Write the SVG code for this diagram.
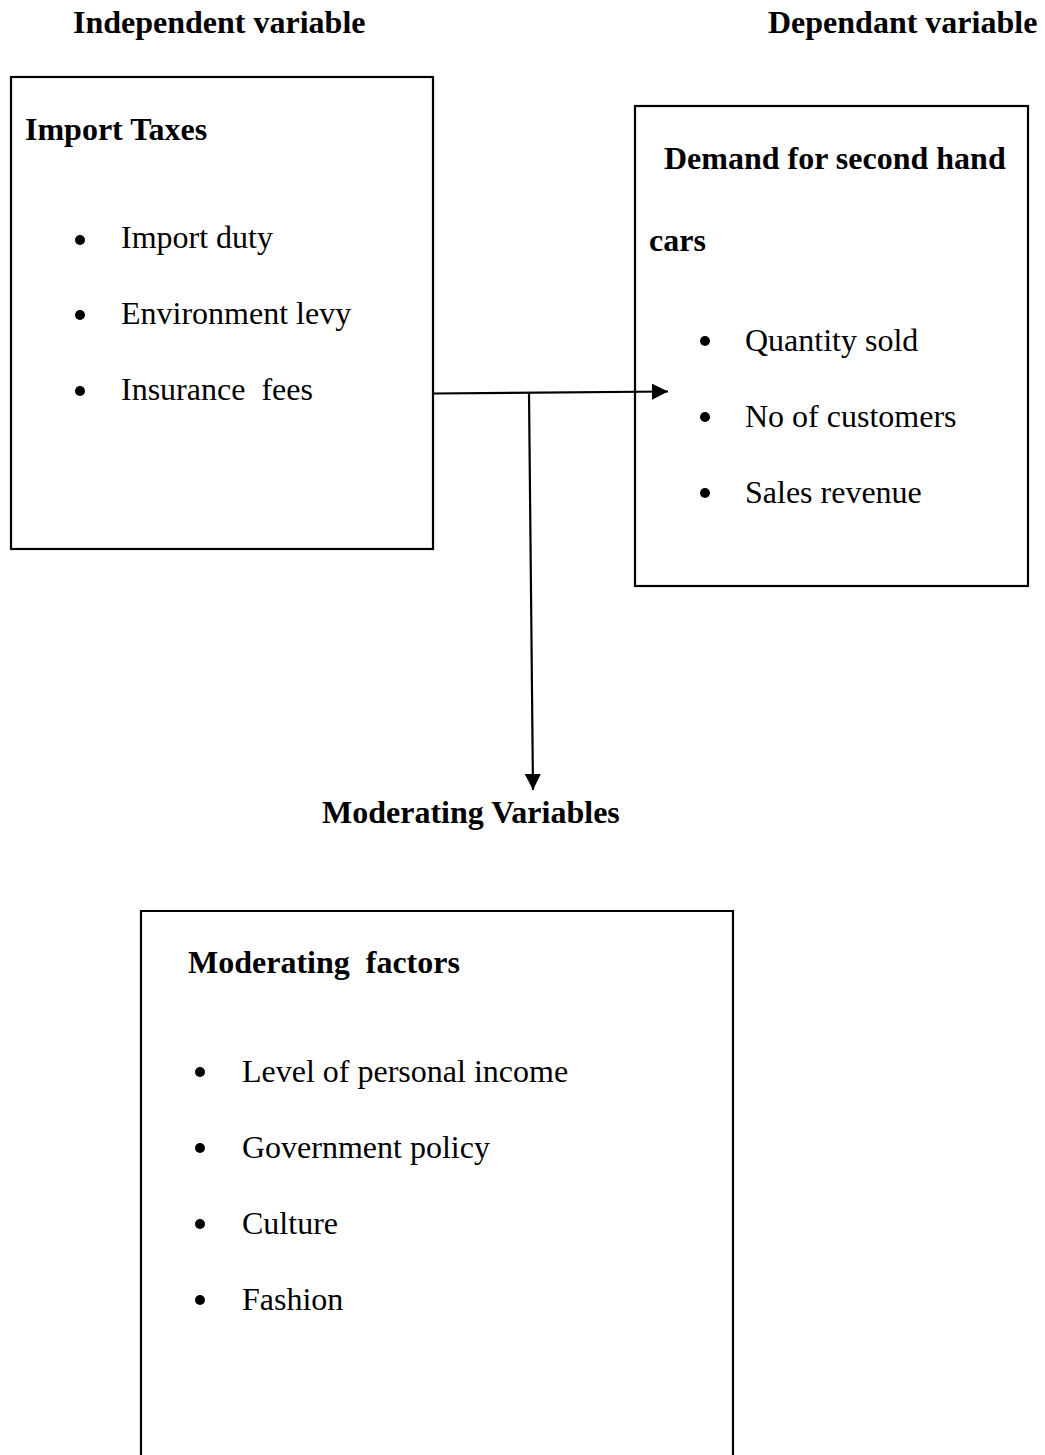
<svg xmlns="http://www.w3.org/2000/svg" width="1045" height="1455" viewBox="0 0 1045 1455">
<style>
text{font-family:"Liberation Serif","Times New Roman",serif;font-size:32px;fill:#000;white-space:pre}
.b{font-weight:bold}
.box{fill:none;stroke:#000;stroke-width:2.2}
.line{fill:none;stroke:#000;stroke-width:2.2}
.dot{fill:#000}
</style>
<defs>
<marker id="arr" viewBox="0 0 10 10" refX="10" refY="5" markerWidth="16" markerHeight="16" markerUnits="userSpaceOnUse" orient="auto">
<path d="M0,0 L10,5 L0,10 Z" fill="#000"/>
</marker>
</defs>
<rect width="1045" height="1455" fill="#fff"/>
<text class="b" x="73" y="33">Independent variable</text>
<text class="b" x="768" y="33">Dependant variable</text>
<text class="b" x="322" y="823">Moderating Variables</text>
<g id="independent">
<rect class="box" x="11" y="77" width="422" height="472"/>
<text class="b" x="25" y="140">Import Taxes</text>
<circle class="dot" cx="80" cy="240" r="5"/><text x="121" y="248">Import duty</text>
<circle class="dot" cx="80" cy="315" r="5"/><text x="121" y="324">Environment levy</text>
<circle class="dot" cx="80" cy="391" r="5"/><text x="121" y="400">Insurance  fees</text>
</g>
<g id="dependent">
<rect class="box" x="635" y="106" width="393" height="480"/>
<text class="b" x="664" y="169">Demand for second hand</text>
<text class="b" x="649" y="251">cars</text>
<circle class="dot" cx="705" cy="341" r="5"/><text x="745" y="351">Quantity sold</text>
<circle class="dot" cx="705" cy="417" r="5"/><text x="745" y="427">No of customers</text>
<circle class="dot" cx="705" cy="493" r="5"/><text x="745" y="503">Sales revenue</text>
</g>
<g id="moderating">
<path class="box" d="M141,1460 V911 H733 V1460"/>
<text class="b" x="188" y="973">Moderating  factors</text>
<circle class="dot" cx="200" cy="1072" r="5"/><text x="242" y="1082">Level of personal income</text>
<circle class="dot" cx="200" cy="1148" r="5"/><text x="242" y="1158">Government policy</text>
<circle class="dot" cx="200" cy="1224" r="5"/><text x="242" y="1234">Culture</text>
<circle class="dot" cx="200" cy="1300" r="5"/><text x="242" y="1310">Fashion</text>
</g>
<g id="connectors">
<path class="line" d="M433,393.5 L668,391.5" marker-end="url(#arr)"/>
<path class="line" d="M529,392.5 L533,790" marker-end="url(#arr)"/>
</g>
</svg>
